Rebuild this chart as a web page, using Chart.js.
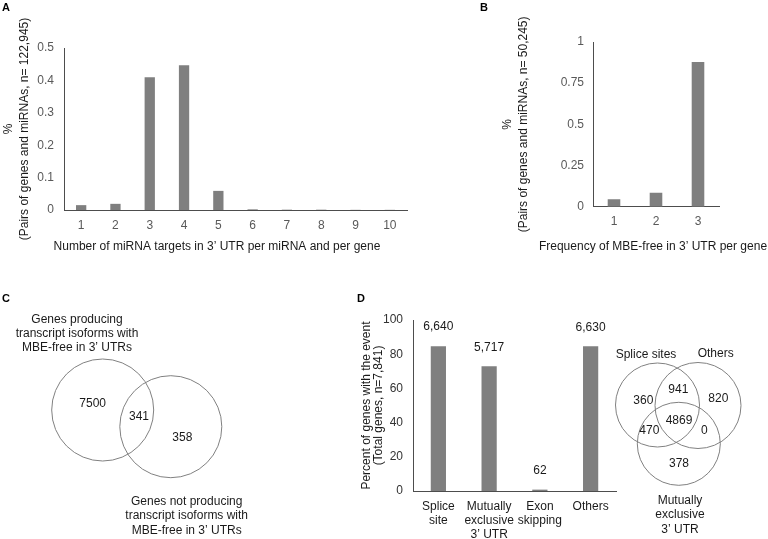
<!DOCTYPE html>
<html lang="en">

<head>
  <meta charset="UTF-8">
  <title>miRNA targets and MBE-free 3' UTRs</title>
  <script src="https://cdn.jsdelivr.net/npm/chart.js@4.4.1/dist/chart.umd.min.js"></script>
  <style>
    body { margin: 0; background: #fff; }
    #page { position: relative; width: 768px; height: 539px; overflow: hidden; background: #fff; }
    #page canvas { position: absolute; }
    .tag { position: absolute; font: bold 11px "Liberation Sans", Arial, sans-serif; color: #000; line-height: 13px; }
  </style>
</head>

<body>
  <div id="page">
    <canvas id="chartA" width="420" height="260" style="left:0;top:0"></canvas>
    <canvas id="chartB" width="288" height="260" style="left:480px;top:0"></canvas>
    <canvas id="vennC" width="340" height="249" style="left:0;top:290px"></canvas>
    <canvas id="chartD" width="280" height="249" style="left:350px;top:290px"></canvas>
    <canvas id="vennD" width="168" height="199" style="left:600px;top:340px"></canvas>
    <div class="tag" style="left:2px;top:1px">A</div>
    <div class="tag" style="left:480px;top:1px">B</div>
    <div class="tag" style="left:2px;top:292px">C</div>
    <div class="tag" style="left:357px;top:292px">D</div>
  </div>
  <script>
    // A - number of miRNA targets per miRNA and gene
    const targetCounts = ['1', '2', '3', '4', '5', '6', '7', '8', '9', '10'];
    const targetShare = [0.015, 0.019, 0.41, 0.447, 0.059, 0.002, 0.001, 0.001, 0.0005, 0.0005];
    const targetTicks = [0, 0.1, 0.2, 0.3, 0.4, 0.5];
    const targetTickLabels = ['0', '0.1', '0.2', '0.3', '0.4', '0.5'];

    // B - frequency of MBE-free 3' UTR per gene
    const mbeFreq = ['1', '2', '3'];
    const mbeShare = [0.045, 0.085, 0.879];
    const mbeTicks = [0, 0.25, 0.5, 0.75, 1];
    const mbeTickLabels = ['0', '0.25', '0.5', '0.75', '1'];

    // D - events
    const eventNames = [['Splice', 'site'], ['Mutually', 'exclusive', '3\u2019 UTR'], ['Exon', 'skipping'], ['Others']];
    const eventPct = [84.7, 72.9, 0.8, 84.6];
    const eventGenes = ['6,640', '5,717', '62', '6,630'];
    const eventTicks = [0, 20, 40, 60, 80, 100];
    const eventTickLabels = ['0', '20', '40', '60', '80', '100'];

    // C - venn counts (left only, both, right only)
    const vennCCounts = ['7500', '341', '358'];
    const vennCSets = [['Genes producing', 'transcript isoforms with', 'MBE-free in 3\u2019 UTRs'],
                       ['Genes not producing', 'transcript isoforms with', 'MBE-free in 3\u2019 UTRs']];
    // D - venn counts (splice only, splice+others, others only, splice+mutual, all, others+mutual, mutual only)
    const vennDCounts = ['360', '941', '820', '470', '4869', '0', '378'];
    const vennDSets = ['Splice sites', 'Others', ['Mutually', 'exclusive', '3\u2019 UTR']];

    // venn layout (canvas units)
    const vennCCircles = [{ x: 102.7, y: 120, r: 51 }, { x: 170.8, y: 136.7, r: 51 }];
    const vennCSpots = [[92.7, 114], [139, 126.7], [182.3, 147.3]];
    const vennCSetSpots = [[77, 29.3], [186.7, 211.7]];
    const vennDCircles = [{ x: 57.5, y: 65, r: 42 }, { x: 98, y: 65.5, r: 43 }, { x: 78.8, y: 103.8, r: 41.5 }];
    const vennDSpots = [[43.3, 61], [78.3, 50], [118.3, 59], [49.3, 91], [79, 81], [104.3, 91], [79, 123.3]];
    const vennDSetSpots = [[46, 14.3], [115.7, 14], [80, 160.7]];

    const FONT = '"Liberation Sans", Arial, sans-serif';
    Chart.defaults.font.family = FONT;
    Chart.defaults.font.size = 12;
    Chart.defaults.animation = false;
    Chart.defaults.plugins.legend.display = false;
    Chart.defaults.plugins.tooltip.enabled = false;
    Chart.defaults.color = '#595959';

    // text drawn at given places, on the scales (venn) or in canvas pixels
    function notes(items, onScale) {
      return {
        id: 'notes',
        afterDraw(chart) {
          const ctx = chart.ctx;
          ctx.save();
          ctx.font = '12px ' + FONT;
          ctx.fillStyle = '#1a1a1a';
          ctx.textAlign = 'center';
          ctx.textBaseline = 'middle';
          items.forEach(it => {
            let x = it.x, y = it.y;
            if (onScale) {
              x = chart.scales.x.getPixelForValue(x);
              y = chart.scales.y.getPixelForValue(y);
            }
            [].concat(it.text).forEach((line, i) => ctx.fillText(line, x, y + i * 14.4));
          });
          ctx.restore();
        }
      };
    }

    function topLabels(texts, gap) {
      return {
        id: 'topLabels',
        afterDatasetsDraw(chart) {
          const ctx = chart.ctx;
          ctx.save();
          ctx.font = '12px ' + FONT;
          ctx.fillStyle = '#1a1a1a';
          ctx.textAlign = 'center';
          ctx.textBaseline = 'middle';
          chart.getDatasetMeta(0).data.forEach((bar, i) => ctx.fillText(texts[i], bar.x, bar.y - gap));
          ctx.restore();
        }
      };
    }

    function barChart(id, labels, values, ticks, tickLabels, o) {
      return new Chart(document.getElementById(id), {
        type: 'bar',
        data: {
          labels: labels,
          datasets: [{ data: values, backgroundColor: '#7f7f7f', barPercentage: 0.3, categoryPercentage: 1 }]
        },
        options: {
          responsive: false,
          layout: { padding: o.pad },
          scales: {
            x: {
              grid: { display: false, drawTicks: false },
              border: { color: '#4d4d4d' },
              ticks: { padding: 8, color: o.xTickColor || '#595959', maxRotation: 0, autoSkip: false },
              afterFit: s => { s.height = o.xH; }
            },
            y: {
              min: ticks[0],
              max: ticks[ticks.length - 1],
              grid: { display: false, drawTicks: false },
              border: { color: '#4d4d4d' },
              ticks: { padding: o.yPad, color: o.yTickColor || '#595959', callback: (v, i) => tickLabels[i] },
              afterBuildTicks: s => { s.ticks = ticks.map(v => ({ value: v })); },
              afterFit: s => { s.width = o.yW; },
              title: {
                display: true, text: o.yTitle, color: '#1a1a1a',
                font: { size: 12, lineHeight: o.lh }, padding: { top: 0, bottom: 0 }
              }
            }
          }
        },
        plugins: o.plugins || []
      });
    }

    function vennChart(id, w, h, circles, counts, spots, sets, setSpots) {
      const items = counts.map((c, i) => ({ text: c, x: spots[i][0], y: spots[i][1] }))
        .concat(sets.map((s, i) => ({ text: s, x: setSpots[i][0], y: setSpots[i][1] })));
      return new Chart(document.getElementById(id), {
        type: 'bubble',
        data: {
          datasets: [{
            data: circles,
            backgroundColor: 'rgba(0,0,0,0)',
            borderColor: '#808080',
            borderWidth: 1,
            hoverBorderWidth: 1,
            clip: false
          }]
        },
        options: {
          responsive: false,
          layout: { padding: 0, autoPadding: false },
          scales: {
            x: { type: 'linear', display: false, min: 0, max: w },
            y: { type: 'linear', display: false, min: 0, max: h, reverse: true }
          }
        },
        plugins: [notes(items, true)]
      });
    }

    barChart('chartA', targetCounts, targetShare, targetTicks, targetTickLabels, {
      pad: { top: 48, right: 13, left: 0, bottom: 0 },
      xH: 50, yW: 64, yPad: 10, lh: 1.37,
      yTitle: ['%', '(Pairs of genes and miRNAs, n= 122,945)'],
      plugins: [notes([{ text: 'Number of miRNA targets in 3\u2019 UTR per miRNA and per gene', x: 217, y: 246.7 }], false)]
    });

    barChart('chartB', mbeFreq, mbeShare, mbeTicks, mbeTickLabels, {
      pad: { top: 42, right: 49, left: 19, bottom: 0 },
      xH: 53.3, yW: 94, yPad: 9, lh: 1.38,
      yTitle: ['%', '(Pairs of genes and miRNAs, n= 50,245)'],
      plugins: [notes([{ text: 'Frequency of MBE-free in 3\u2019 UTR per gene', x: 173, y: 246.7 }], false)]
    });

    barChart('chartD', eventNames, eventPct, eventTicks, eventTickLabels, {
      pad: { top: 30, right: 14, left: 10, bottom: 0 },
      xH: 48, yW: 53, yPad: 10, lh: 1.04,
      xTickColor: '#1a1a1a', yTickColor: '#333333',
      yTitle: ['Percent of genes with the event', '(Total genes, n=7,841)'],
      plugins: [topLabels(eventGenes, 19)]
    });

    vennChart('vennC', 340, 249, vennCCircles, vennCCounts, vennCSpots, vennCSets, vennCSetSpots);
    vennChart('vennD', 168, 199, vennDCircles, vennDCounts, vennDSpots, vennDSets, vennDSetSpots);
  </script>
</body>

</html>
